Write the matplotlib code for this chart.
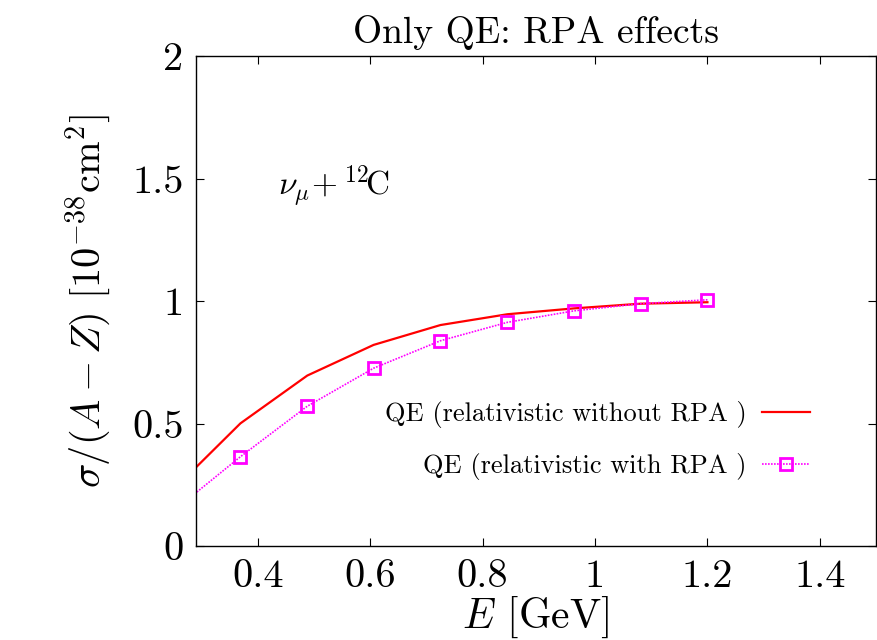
import matplotlib
matplotlib.use('Agg')
import matplotlib.pyplot as plt
from matplotlib.ticker import FuncFormatter

# cross section per neutron, nu_mu on carbon, QE only
energy = [0.25, 0.369, 0.488, 0.606, 0.725, 0.844, 0.963, 1.081, 1.2]
qe_no_rpa = [0.232, 0.502, 0.697, 0.822, 0.903, 0.947, 0.971, 0.990, 0.996]
qe_rpa = [0.145, 0.366, 0.572, 0.727, 0.839, 0.914, 0.961, 0.990, 1.006]

x_ticks = [0.4, 0.6, 0.8, 1.0, 1.2, 1.4]
y_ticks = [0, 0.5, 1, 1.5, 2]

plt.rcParams['font.family'] = 'serif'
plt.rcParams['font.serif'] = ['cmr10']
plt.rcParams['mathtext.fontset'] = 'cm'
plt.rcParams['axes.formatter.use_mathtext'] = True

fig = plt.figure(figsize=(8.77, 6.40), dpi=100)
ax = fig.add_axes([0.2235, 0.1461, 0.7754, 0.7664])

ax.plot(energy, qe_no_rpa, color='#ff0000', lw=1.6,
        label='QE (relativistic without RPA )')
ax.plot(energy, qe_rpa, color='#ff00ff', lw=1.2, ls=(0, (1, 0.8)),
        marker='s', ms=8, mfc='none', mec='#ff00ff', mew=2,
        label='QE (relativistic with RPA )')

ax.set_xlim(0.29, 1.5)
ax.set_ylim(0, 2)
ax.set_xticks(x_ticks)
ax.set_yticks(y_ticks)
fmt = FuncFormatter(lambda v, p: '%g' % v)
ax.xaxis.set_major_formatter(fmt)
ax.yaxis.set_major_formatter(fmt)
ax.tick_params(direction='in', top=True, right=True, length=6, width=0.8,
               labelsize=29, pad=9)
for s in ax.spines.values():
    s.set_linewidth(1.0)

ax.set_title('Only QE: RPA effects', fontsize=27, pad=9)
ax.set_xlabel(r'$E$ [GeV]', fontsize=30, labelpad=0)
ax.set_ylabel(r'$\sigma/(A-Z)\ [10^{-38}\mathrm{cm}^2]$', fontsize=29, labelpad=14)

ax.text(0.436, 1.433, r'$\nu_\mu\!+^{12}\!\mathrm{C}$', fontsize=24, va='baseline')

ax.legend(loc='upper right', bbox_to_anchor=(0.918, 0.318), frameon=False,
          markerfirst=False, fontsize=19, handlelength=1.8, handletextpad=0.6,
          labelspacing=0.95, borderaxespad=0)

fig.savefig('out.png', dpi=100)
